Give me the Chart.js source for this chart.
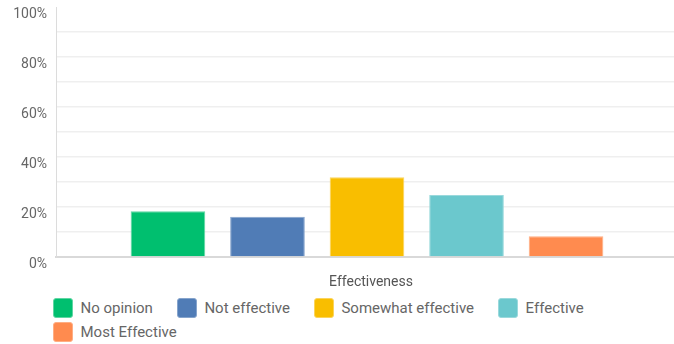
<!DOCTYPE html>
<html>
<head>
<meta charset="utf-8">
<script src="https://cdn.jsdelivr.net/npm/chart.js@4.4.1/dist/chart.umd.min.js"></script>
<style>
  html, body { margin: 0; padding: 0; background: #fff; overflow: hidden; }
  body { width: 674px; height: 344px; position: relative; font-family: Roboto, "Open Sans", sans-serif; }
  #wrap { position: absolute; left: 0; top: 0; width: 678px; height: 296px; }
  #legend {
    position: absolute; left: 53px; top: 298px; width: 600px;
    display: flex; flex-wrap: wrap; column-gap: 24px; row-gap: 4px;
  }
  .item { display: flex; align-items: center; height: 20px; font-size: 15px; color: #666; white-space: nowrap; }
  .box { width: 20px; height: 20px; border-radius: 3px; margin-right: 7.5px; box-sizing: border-box; }
</style>
</head>
<body>
<div id="wrap"><canvas id="c"></canvas></div>
<div id="legend"></div>
<script>
// Single question, answers shown as grouped bars (percent of respondents)
const categories = ['Effectiveness'];
const answerNames = ['No opinion', 'Not effective', 'Somewhat effective', 'Effective', 'Most Effective'];
const answerValues = [18.3, 16.1, 31.9, 24.8, 8.3];
const yTickValues = [0, 20, 40, 60, 80, 100];

const fillColors = ['#00bf6f', '#507cb6', '#f9be00', '#6bc8cd', '#ff8b4f'];
const edgeColors = ['#5fd6a3', '#86a4cc', '#fbd45c', '#9ad9dc', '#ffae84'];

const datasets = answerNames.map((name, i) => ({
  label: name,
  data: [answerValues[i]],
  backgroundColor: fillColors[i],
  borderColor: edgeColors[i],
  borderWidth: 1,
  categoryPercentage: 0.8,
  barPercentage: 0.75
}));

new Chart(document.getElementById('c'), {
  type: 'bar',
  data: { labels: categories, datasets },
  options: {
    responsive: true,
    maintainAspectRatio: false,
    animation: false,
    layout: { padding: { top: 7, right: 0, bottom: 6, left: 0 } },
    plugins: {
      legend: { display: false },
      tooltip: { enabled: false }
    },
    scales: {
      x: {
        afterFit: s => { s.height = 33; s.paddingLeft = 0; s.paddingRight = 0; },
        grid: { display: false, drawTicks: false },
        border: { color: '#d9d9d9', width: 2 },
        ticks: { color: '#555', font: { family: 'Roboto', size: 14 }, padding: 17, labelOffset: 4 }
      },
      y: {
        min: 0,
        max: 100,
        afterFit: s => { s.width = 56; s.paddingTop = 0; s.paddingBottom = 0; },
        afterBuildTicks: s => {
          s.ticks = [];
          for (let v = 0; v <= 100; v += 10) s.ticks.push({ value: v });
        },
        border: { color: '#dcdcdc', width: 1 },
        grid: {
          drawTicks: false,
          lineWidth: 1.5,
          color: ctx => (ctx.tick && ctx.tick.value === 100) ? 'rgba(0,0,0,0)' : '#efefef'
        },
        ticks: {
          color: '#666',
          font: { family: 'Roboto', size: 14 },
          padding: 9,
          labelOffset: 7,
          callback: v => yTickValues.includes(v) ? v + '%' : ''
        }
      }
    }
  }
});

// Legend below the plot
const legend = document.getElementById('legend');
answerNames.forEach((name, i) => {
  const item = document.createElement('div');
  item.className = 'item';
  const box = document.createElement('span');
  box.className = 'box';
  box.style.background = fillColors[i];
  box.style.border = '1px solid ' + edgeColors[i];
  const txt = document.createElement('span');
  txt.textContent = name;
  item.appendChild(box);
  item.appendChild(txt);
  legend.appendChild(item);
});
</script>
</body>
</html>
